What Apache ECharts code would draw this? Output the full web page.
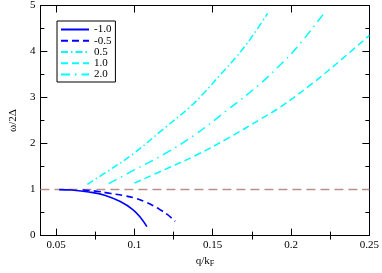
<!DOCTYPE html>
<html><head><meta charset="utf-8">
<script src="https://cdn.jsdelivr.net/npm/echarts@6/dist/echarts.min.js"></script>
<style>html,body{margin:0;padding:0;background:#fff}#c{width:382px;height:273px}</style>
</head><body><div id="c"></div>
<script>
// Data
const seriesNames = ['-1.0', '-0.5', '0.5', '1.0', '2.0'];
const qNeg10 = [0.052, 0.060, 0.071, 0.081, 0.091, 0.099, 0.104, 0.108];
const wNeg10 = [1.0, 0.99, 0.948, 0.879, 0.74, 0.565, 0.39, 0.195];
const qNeg05 = [0.067, 0.076, 0.085, 0.093, 0.101, 0.107, 0.113, 0.117, 0.121, 0.126];
const wNeg05 = [0.99, 0.965, 0.914, 0.87, 0.81, 0.73, 0.634, 0.55, 0.46, 0.31];
const qPos05 = [0.070, 0.083, 0.099, 0.119, 0.135, 0.145, 0.155, 0.165, 0.175, 0.185];
const wPos05 = [1.115, 1.40, 1.77, 2.33, 2.78, 3.12, 3.50, 3.88, 4.32, 4.83];
const qPos10 = [0.100, 0.119, 0.139, 0.159, 0.181, 0.193, 0.213, 0.233, 0.250];
const wPos10 = [1.14, 1.43, 1.74, 2.10, 2.54, 2.79, 3.29, 3.85, 4.35];
const qPos20 = [0.0836, 0.099, 0.119, 0.139, 0.159, 0.179, 0.191, 0.203, 0.221];
const wPos20 = [1.13, 1.41, 1.77, 2.20, 2.72, 3.26, 3.64, 4.06, 4.83];
const qRef = [0.04, 0.25];
const wRef = [1, 1];
const xMajorTicks = [0.05, 0.1, 0.15, 0.2, 0.25];
const xMinorTicks = [0.075, 0.125, 0.175, 0.225];

const pairs = (xs, ys) => xs.map((x, i) => [x, ys[i]]);
const FONT = 'Liberation Serif';
const XMIN = 0.04, XMAX = 0.25;

const xBase = {type: 'value', min: XMIN, max: XMAX, splitLine: {show: false}};
const option = {
  animation: false,
  grid: {left: 22, right: 10, top: 5, bottom: 29},
  legend: {
    data: seriesNames,
    orient: 'vertical', left: 57, top: 21,
    padding: [3, 4, 2, 3], itemGap: 0.25, itemWidth: 28, itemHeight: 8,
    borderColor: '#000', borderWidth: 1,
    itemStyle: {opacity: 0},
    textStyle: {fontFamily: FONT, fontSize: 11, lineHeight: 10, color: '#000'}
  },
  xAxis: [
    Object.assign({}, xBase, {position: 'bottom',
      name: '{a|q/k}{s|F}', nameLocation: 'middle', nameGap: 16,
      nameTextStyle: {rich: {a: {fontFamily: FONT, fontSize: 11, color: '#000'}, s: {fontFamily: FONT, fontSize: 8, color: '#000', verticalAlign: 'bottom', padding: [6, 0, 0, 0]}}},
      axisLine: {show: true, onZero: false, lineStyle: {color: '#000', width: 1}},
      axisTick: {show: true, inside: true, length: 7, customValues: xMajorTicks, lineStyle: {color: '#000'}},
      axisLabel: {show: true, customValues: xMajorTicks, margin: 4, fontFamily: FONT, fontSize: 11, color: '#000', formatter: v => String(+v.toFixed(3))}
    }),
    Object.assign({}, xBase, {position: 'bottom',
      axisLine: {show: false},
      axisTick: {show: true, inside: true, length: 4, customValues: xMinorTicks, lineStyle: {color: '#000'}},
      axisLabel: {show: false}
    }),
    Object.assign({}, xBase, {position: 'top',
      axisLine: {show: true, onZero: false, lineStyle: {color: '#000', width: 1}},
      axisTick: {show: true, inside: true, length: 7, customValues: xMajorTicks, lineStyle: {color: '#000'}},
      axisLabel: {show: false}
    }),
    Object.assign({}, xBase, {position: 'top',
      axisLine: {show: false},
      axisTick: {show: true, inside: true, length: 4, customValues: xMinorTicks, lineStyle: {color: '#000'}},
      axisLabel: {show: false}
    })
  ],
  yAxis: [
    {type: 'value', min: 0, max: 5, interval: 1, position: 'left',
      name: 'ω/2Δ', nameLocation: 'middle', nameGap: 14, nameRotate: 90,
      nameTextStyle: {fontFamily: FONT, fontSize: 11, color: '#000'},
      axisLine: {show: true, onZero: false, lineStyle: {color: '#000', width: 1}},
      axisTick: {show: true, inside: true, length: 7, lineStyle: {color: '#000'}},
      minorTick: {show: true, splitNumber: 2, length: 4, lineStyle: {color: '#000'}},
      axisLabel: {margin: 5, fontFamily: FONT, fontSize: 11, color: '#000'},
      splitLine: {show: false}
    },
    {type: 'value', min: 0, max: 5, interval: 1, position: 'right',
      axisLine: {show: true, onZero: false, lineStyle: {color: '#000', width: 1}},
      axisTick: {show: true, inside: true, length: 7, lineStyle: {color: '#000'}},
      minorTick: {show: true, splitNumber: 2, length: 4, lineStyle: {color: '#000'}},
      axisLabel: {show: false},
      splitLine: {show: false}
    }
  ],
  series: [
    {name: 'ref', type: 'line', data: pairs(qRef, wRef), symbol: 'none', silent: true,
      lineStyle: {color: '#bc8f8f', width: 1.5, type: [9, 5]}, z: 1},
    {name: '-1.0', type: 'line', smooth: 0.4, data: pairs(qNeg10, wNeg10), symbol: 'none',
      color: '#0000ff', lineStyle: {color: '#0000ff', width: 1.6, type: 'solid'}},
    {name: '-0.5', type: 'line', smooth: 0.4, data: pairs(qNeg05, wNeg05), symbol: 'none',
      color: '#0000ff', lineStyle: {color: '#0000ff', width: 1.6, type: [7, 4]}},
    {name: '0.5', type: 'line', smooth: 0.4, data: pairs(qPos05, wPos05), symbol: 'none',
      color: '#00ffff', lineStyle: {color: '#00ffff', width: 1.5, type: [7, 3, 1.5, 3]}},
    {name: '1.0', type: 'line', smooth: 0.4, data: pairs(qPos10, wPos10), symbol: 'none',
      color: '#00ffff', lineStyle: {color: '#00ffff', width: 1.5, type: [7, 4]}},
    {name: '2.0', type: 'line', smooth: 0.4, data: pairs(qPos20, wPos20), symbol: 'none',
      color: '#00ffff', lineStyle: {color: '#00ffff', width: 1.5, type: [9, 5, 1.5, 5]}}
  ]
};
const chart = echarts.init(document.getElementById('c'), null, {renderer: 'canvas'});
chart.setOption(option);
</script></body></html>
